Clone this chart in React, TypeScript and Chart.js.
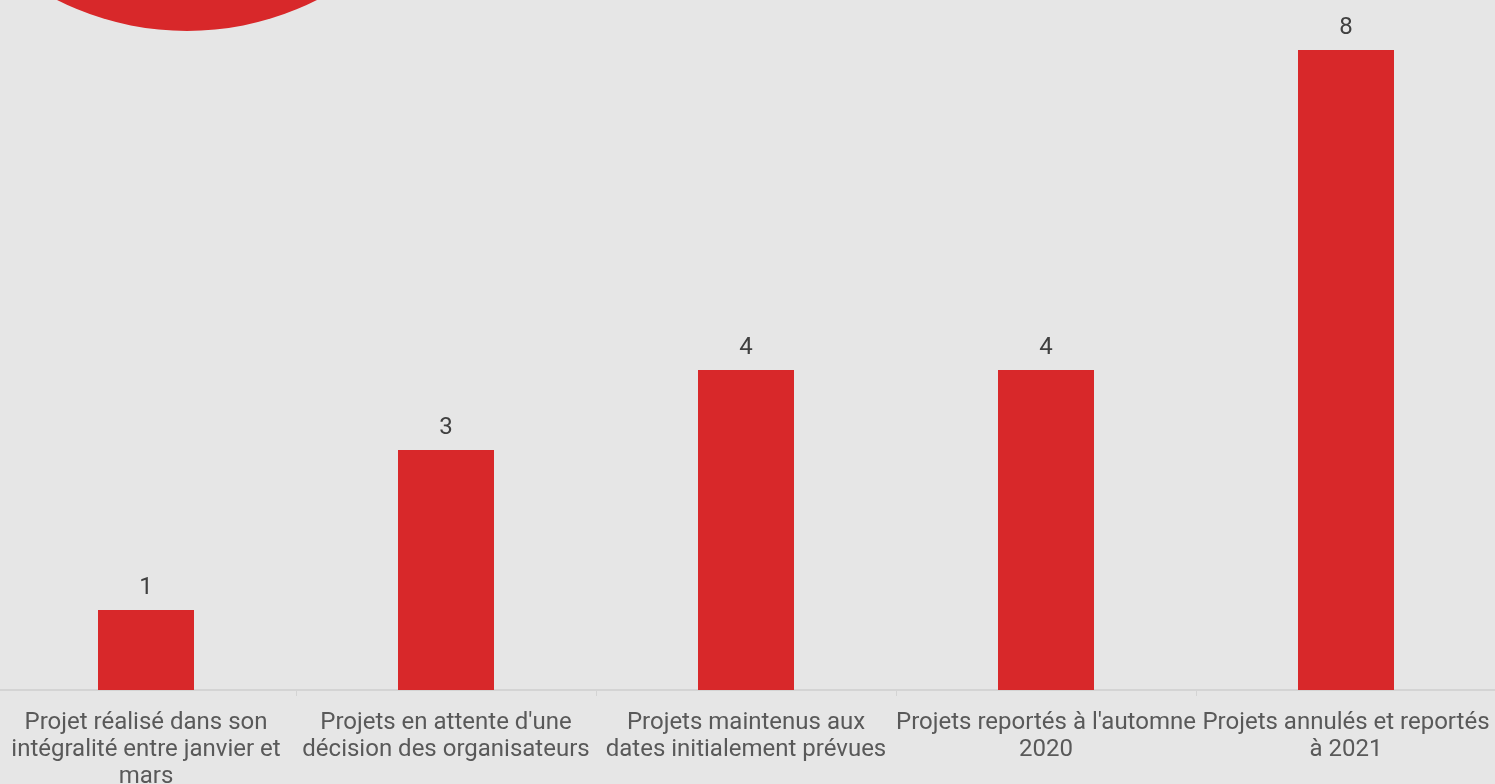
import React, { useEffect, useRef } from "react";
import { Chart, registerables } from "chart.js";

Chart.register(...registerables);

const categories: string[][] = [
  ["Projet réalisé dans son", "intégralité entre janvier et", "mars"],
  ["Projets en attente d'une", "décision des organisateurs"],
  ["Projets maintenus aux", "dates initialement prévues"],
  ["Projets reportés à l'automne", "2020"],
  ["Projets annulés et reportés", "à 2021"],
];
const values: number[] = [1, 3, 4, 4, 8];

const RED = "#d8282a";
const BG = "#e6e6e6";

const valueLabels = {
  id: "valueLabels",
  afterDatasetsDraw(chart: any) {
    const ctx = chart.ctx;
    const meta = chart.getDatasetMeta(0);
    ctx.save();
    ctx.font = "24px Roboto";
    ctx.fillStyle = "#404040";
    ctx.textAlign = "center";
    ctx.textBaseline = "middle";
    meta.data.forEach((bar: any, i: number) => {
      ctx.fillText(String(values[i]), bar.x, bar.y - 22);
    });
    ctx.restore();
  },
};

const logoCircle = {
  id: "logoCircle",
  beforeDraw(chart: any) {
    const ctx = chart.ctx;
    ctx.save();
    ctx.fillStyle = RED;
    ctx.beginPath();
    ctx.arc(191, -257, 288, 0, Math.PI * 2);
    ctx.fill();
    ctx.restore();
  },
};

export default function App() {
  const ref = useRef<HTMLCanvasElement | null>(null);
  useEffect(() => {
    if (!ref.current) return;
    const chart = new Chart(ref.current, {
      type: "bar",
      data: {
        labels: categories,
        datasets: [
          {
            data: values,
            backgroundColor: RED,
            borderWidth: 0,
            barPercentage: 0.64,
            categoryPercentage: 0.5,
          },
        ],
      },
      options: {
        responsive: false,
        animation: false,
        layout: { padding: { top: 2, left: 0, right: 0, bottom: 0 } },
        plugins: {
          legend: { display: false },
          tooltip: { enabled: false },
          title: { display: false },
        },
        scales: {
          x: {
            offset: true,
            grid: {
              display: true,
              drawOnChartArea: false,
              drawTicks: true,
              tickLength: 6,
              color: "#d4d4d4",
              offset: true,
            },
            border: { display: true, color: "#d4d4d4", width: 2 },
            ticks: {
              padding: 13,
              maxRotation: 0,
              minRotation: 0,
              autoSkip: false,
              color: "#595959",
              font: { family: "Roboto", size: 24, lineHeight: 1.125 },
            },
            afterFit(s: any) {
              s.height = 94;
              s.paddingLeft = 0;
              s.paddingRight = 0;
            },
          },
          y: {
            display: false,
            min: 0,
            max: 8.6,
          },
        },
      },
      plugins: [logoCircle, valueLabels],
    });
    return () => chart.destroy();
  }, []);

  return (
    <div
      style={{
        position: "fixed",
        left: 0,
        top: 0,
        width: 1495,
        height: 784,
        overflow: "hidden",
        background: BG,
      }}
    >
      <canvas
        ref={ref}
        width={1500}
        height={784}
        style={{ position: "absolute", left: -4, top: 0, width: 1500, height: 784, background: BG }}
      />
    </div>
  );
}
